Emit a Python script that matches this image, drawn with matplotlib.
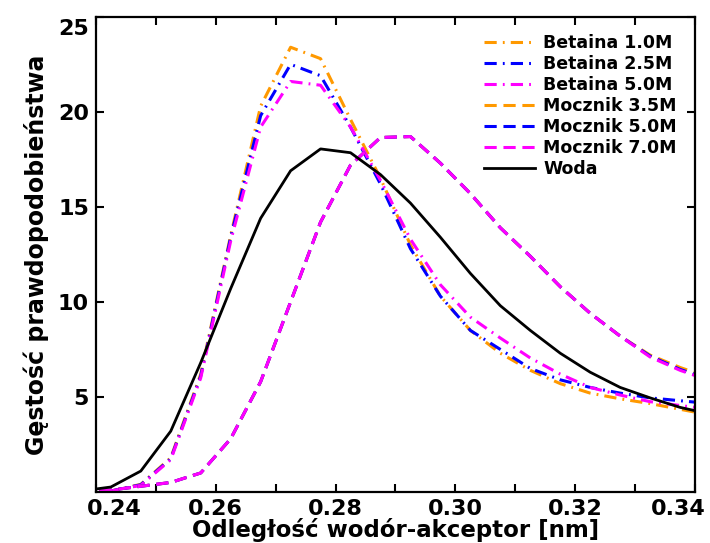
import numpy as np
import matplotlib
matplotlib.use('Agg')
import matplotlib.pyplot as plt
import matplotlib.transforms as mtrans

# bin centres [nm]
r = [0.2375, 0.2425, 0.2475, 0.2525, 0.2575, 0.2625, 0.2675, 0.2725,
     0.2775, 0.2825, 0.2875, 0.2925, 0.2975, 0.3025, 0.3075, 0.3125,
     0.3175, 0.3225, 0.3275, 0.3325, 0.3375, 0.3425]

betaina_10 = [0.0, 0.05, 0.4, 1.8, 6.2, 13.5, 20.3, 23.4, 22.8, 19.6, 16.5,
              13.0, 10.3, 8.5, 7.3, 6.4, 5.7, 5.2, 4.9, 4.65, 4.35, 4.05]
betaina_25 = [0.0, 0.05, 0.38, 1.75, 6.1, 13.4, 19.8, 22.5, 21.9, 19.2, 16.2,
              12.8, 10.3, 8.5, 7.5, 6.5, 5.9, 5.5, 5.2, 4.95, 4.8, 4.65]
betaina_50 = [0.0, 0.05, 0.35, 1.7, 6.0, 13.2, 19.2, 21.6, 21.4, 19.2, 16.4,
              13.3, 10.9, 9.2, 8.1, 7.05, 6.2, 5.5, 5.1, 4.75, 4.55, 4.35]
mocznik_35 = [0.05, 0.1, 0.3, 0.5, 1.0, 2.8, 5.8, 10.0, 14.2, 17.2, 18.65,
              18.7, 17.3, 15.7, 13.9, 12.4, 10.8, 9.4, 8.2, 7.2, 6.55, 6.0]
mocznik_50 = [0.05, 0.1, 0.3, 0.5, 1.0, 2.8, 5.8, 10.0, 14.2, 17.2, 18.65,
              18.7, 17.3, 15.7, 13.9, 12.4, 10.8, 9.4, 8.2, 7.15, 6.45, 5.9]
mocznik_70 = [0.05, 0.1, 0.3, 0.5, 1.0, 2.8, 5.8, 10.0, 14.2, 17.2, 18.65,
              18.7, 17.3, 15.7, 13.9, 12.4, 10.8, 9.4, 8.2, 7.1, 6.4, 5.85]
woda = [0.05, 0.26, 1.1, 3.2, 6.8, 10.7, 14.4, 16.9, 18.05, 17.85, 16.7,
        15.2, 13.4, 11.5, 9.8, 8.5, 7.3, 6.3, 5.5, 4.95, 4.45, 4.1]

orange = '#ff9900'
blue = '#0000ff'
magenta = '#ff00ff'

fig = plt.figure(figsize=(7.1, 5.43), dpi=100)
ax = fig.add_axes([0.135, 0.094, 0.844, 0.875])

dashdot = (0, (4, 2, 0.6, 2))
dashed = (0, (4, 2.2))
lw = 2.2

ax.plot(r, betaina_10, color=orange, ls=dashdot, lw=lw, label='Betaina 1.0M')
ax.plot(r, betaina_25, color=blue, ls=dashdot, lw=lw, label='Betaina 2.5M')
ax.plot(r, betaina_50, color=magenta, ls=dashdot, lw=lw, label='Betaina 5.0M')
ax.plot(r, mocznik_35, color=orange, ls=dashed, lw=lw, label='Mocznik 3.5M')
ax.plot(r, mocznik_50, color=blue, ls=dashed, lw=lw, label='Mocznik 5.0M')
ax.plot(r, mocznik_70, color=magenta, ls=dashed, lw=lw, label='Mocznik 7.0M')
ax.plot(r, woda, color='black', lw=2.0, label='Woda')

ax.set_xlim(0.24, 0.34)
ax.set_ylim(0, 25)
ax.set_xticks([0.24, 0.26, 0.28, 0.30, 0.32, 0.34])
ax.set_xticklabels(['0.24', '0.26', '0.28', '0.30', '0.32', '0.34'])
ax.set_xticks([0.25, 0.27, 0.29, 0.31, 0.33], minor=True)
ax.set_yticks([5, 10, 15, 20, 25])

ax.tick_params(which='both', direction='in', length=6, width=1.5,
               top=True, right=True, labelsize=16, pad=5)
for lab in ax.get_xticklabels() + ax.get_yticklabels():
    lab.set_fontweight('bold')
for s in ax.spines.values():
    s.set_linewidth(1.6)

# edge labels pushed inward like in the original
xl = ax.get_xticklabels()
xl[0].set_transform(xl[0].get_transform() + mtrans.ScaledTranslation(0.18, 0, fig.dpi_scale_trans))
xl[-1].set_transform(xl[-1].get_transform() + mtrans.ScaledTranslation(-0.17, 0, fig.dpi_scale_trans))
yl = ax.get_yticklabels()
yl[-1].set_transform(yl[-1].get_transform() + mtrans.ScaledTranslation(0, -0.10, fig.dpi_scale_trans))

ax.set_xlabel('Odległość wodór-akceptor [nm]', fontsize=16.5, fontweight='bold', labelpad=-1)
ax.set_ylabel('Gęstość prawdopodobieństwa', fontsize=17, fontweight='bold', labelpad=6)

ax.legend(loc='upper right', frameon=False, prop={'weight': 'bold', 'size': 12.5},
          handlelength=2.9, handletextpad=0.5, labelspacing=0.18,
          borderaxespad=0.3, bbox_to_anchor=(0.99, 0.99))

fig.savefig('out.png', dpi=100)
